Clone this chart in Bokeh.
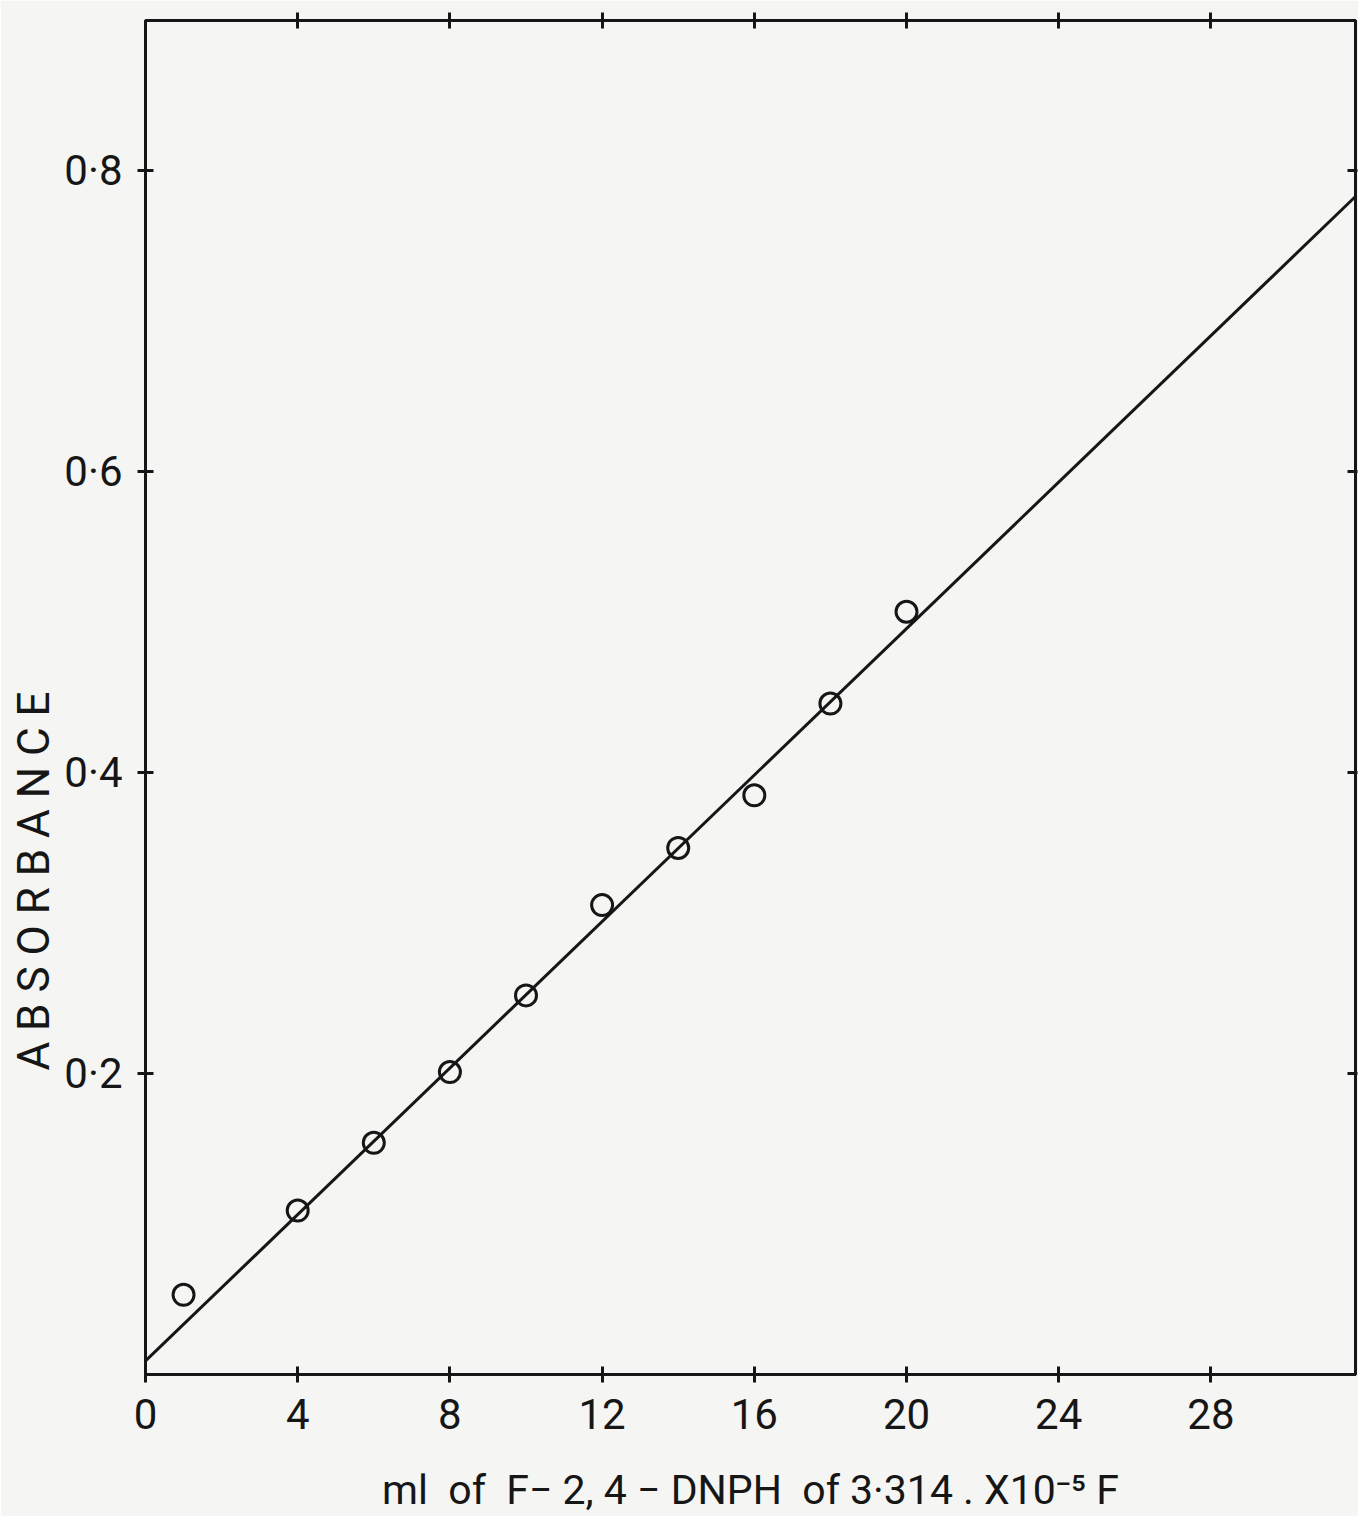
from bokeh.plotting import figure
from bokeh.models import FixedTicker, LinearAxis, Range1d, CustomJSTickFormatter, Title
from bokeh.embed import file_html
from bokeh.resources import INLINE

# data
vol_ml = [1, 4, 6, 8, 10, 12, 14, 16, 18, 20]
absorbance = [0.053, 0.109, 0.154, 0.201, 0.252, 0.312, 0.350, 0.385, 0.446, 0.507]
fit_x = [0, 31.8]
fit_y = [0.009, 0.783]
x_ticks = [0, 4, 8, 12, 16, 20, 24, 28]
y_ticks = [0.2, 0.4, 0.6, 0.8]
y_tick_labels = ["0\u00b72", "0\u00b74", "0\u00b76", "0\u00b78"]
NB = "\u00a0"
x_title = ("ml" + NB * 2 + "of" + NB * 2 + "F\u2212" + NB + "2," + NB + "4" + NB + "\u2212"
           + NB + "DNPH" + NB * 2 + "of 3\u00b7314 . X10\u207b\u2075 F")
y_title = "A B S O R B A N C E"

FONT = "Roboto"
INK = "#161616"
PAPER = "#f5f5f3"

p = figure(width=1358, height=1516, output_backend="svg", toolbar_location=None,
           x_range=Range1d(0, 31.8), y_range=Range1d(0, 0.9),
           min_border_left=145, min_border_top=20, min_border_bottom=137, min_border_right=3)
p.background_fill_color = PAPER
p.border_fill_color = PAPER
p.grid.visible = False
p.outline_line_color = INK
p.outline_line_width = 3

p.line(fit_x, fit_y, line_color=INK, line_width=3)
p.scatter(vol_ml, absorbance, marker="circle", size=21, fill_color=None,
          line_color=INK, line_width=3)

def style(ax):
    ax.axis_line_color = INK
    ax.axis_line_width = 3
    ax.major_tick_line_color = INK
    ax.major_tick_line_width = 3
    ax.major_tick_in = 8
    ax.major_tick_out = 8
    ax.minor_tick_line_color = None
    ax.major_label_text_font = FONT
    ax.major_label_text_font_size = "42px"
    ax.major_label_text_color = INK
    ax.axis_label_text_font = FONT
    ax.axis_label_text_font_style = "normal"
    ax.axis_label_text_color = INK
    ax.axis_label_text_font_size = "41px"

xa = p.xaxis[0]
style(xa)
xa.ticker = FixedTicker(ticks=x_ticks)
xa.major_label_standoff = 16
xa.axis_label = x_title
xa.axis_label_standoff = 34

ya = p.yaxis[0]
style(ya)
ya.ticker = FixedTicker(ticks=y_ticks)
ya.major_label_overrides = {t: s for t, s in zip(y_ticks, y_tick_labels)}
ya.major_label_orientation = "horizontal"
ya.major_label_standoff = 15

p.add_layout(Title(text=y_title, align="left", offset=304, text_font=FONT,
                   text_font_size="44px", text_font_style="normal", text_color=INK,
                   standoff=4), "left")

blank = CustomJSTickFormatter(code="return ''")
top = LinearAxis(ticker=FixedTicker(ticks=x_ticks[1:]), formatter=blank)
style(top)
top.major_label_standoff = 0
p.add_layout(top, "above")
right = LinearAxis(ticker=FixedTicker(ticks=y_ticks), formatter=blank)
style(right)
right.major_tick_out = 2
right.major_label_standoff = 0
p.add_layout(right, "right")

open("out.html", "w").write(file_html(p, INLINE))
